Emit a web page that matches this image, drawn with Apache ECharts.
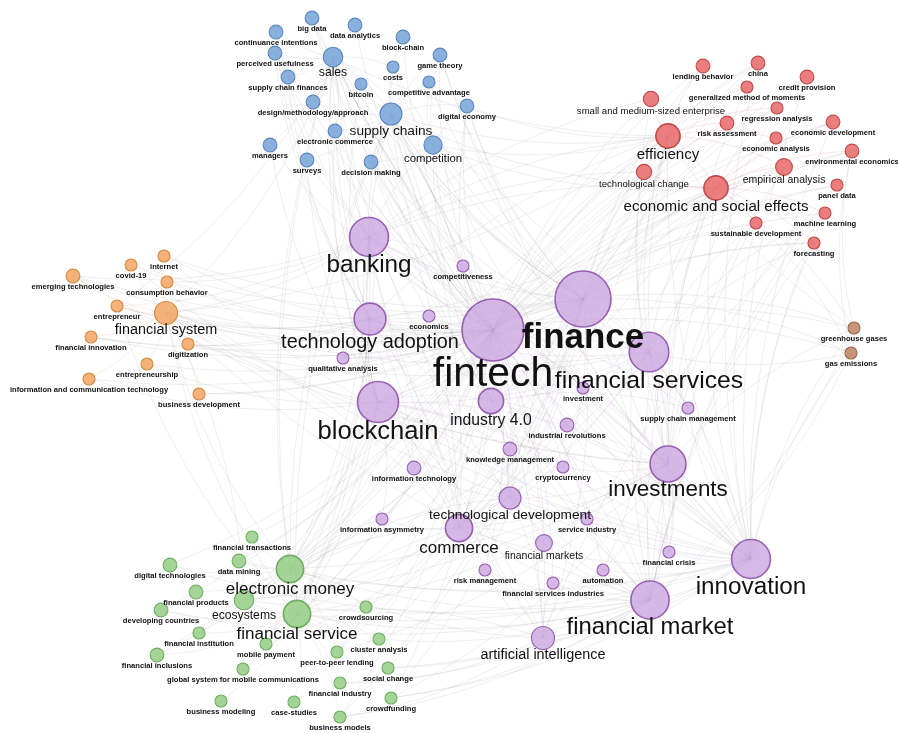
<!DOCTYPE html>
<html>
<head>
<meta charset="utf-8">
<title>Fintech keyword co-occurrence network</title>
<script src="https://cdn.jsdelivr.net/npm/echarts@6/dist/echarts.min.js"></script>
<style>
  html, body { margin: 0; padding: 0; background: #ffffff; }
  #chart { width: 898px; height: 733px; }
</style>
</head>
<body>
<div id="chart"></div>
<script>
// Cluster names (index used in the term table below)
const clusters = ['supply chain', 'economics', 'financial system', 'emissions', 'fintech core', 'digital payments'];

// Keyword terms: [term, map x, map y, occurrences, cluster]
const terms = [
  ['big data', 312, 18, 6, 0],
  ['data analytics', 355, 25, 6, 0],
  ['continuance intentions', 276, 32, 6, 0],
  ['block-chain', 403, 37, 6, 0],
  ['perceived usefulness', 275, 53, 6, 0],
  ['sales', 333, 57, 10, 0],
  ['game theory', 440, 55, 6, 0],
  ['costs', 393, 67, 5, 0],
  ['supply chain finances', 288, 77, 6, 0],
  ['bitcoin', 361, 84, 5, 0],
  ['competitive advantage', 429, 82, 5, 0],
  ['design/methodology/approach', 313, 102, 6, 0],
  ['digital economy', 467, 106, 6, 0],
  ['supply chains', 391, 114, 12, 0],
  ['electronic commerce', 335, 131, 6, 0],
  ['managers', 270, 145, 6, 0],
  ['competition', 433, 145, 9, 0],
  ['surveys', 307, 160, 6, 0],
  ['decision making', 371, 162, 6, 0],

  ['lending behavior', 703, 66, 6, 1],
  ['china', 758, 63, 6, 1],
  ['credit provision', 807, 77, 6, 1],
  ['generalized method of moments', 747, 87, 5, 1],
  ['small and medium-sized enterprise', 651, 99, 7, 1],
  ['regression analysis', 777, 108, 5, 1],
  ['risk assessment', 727, 123, 6, 1],
  ['economic development', 833, 122, 6, 1],
  ['efficiency', 668, 136, 14, 1],
  ['economic analysis', 776, 138, 5, 1],
  ['environmental economics', 852, 151, 6, 1],
  ['empirical analysis', 784, 167, 8, 1],
  ['technological change', 644, 172, 7, 1],
  ['economic and social effects', 716, 188, 14, 1],
  ['panel data', 837, 185, 5, 1],
  ['machine learning', 825, 213, 5, 1],
  ['sustainable development', 756, 223, 5, 1],
  ['forecasting', 814, 243, 5, 1],

  ['internet', 164, 256, 5, 2],
  ['covid-19', 131, 265, 5, 2],
  ['emerging technologies', 73, 276, 6, 2],
  ['consumption behavior', 167, 282, 5, 2],
  ['entrepreneur', 117, 306, 5, 2],
  ['financial system', 166, 313, 13, 2],
  ['financial innovation', 91, 337, 5, 2],
  ['digitization', 188, 344, 5, 2],
  ['entrepreneurship', 147, 364, 5, 2],
  ['information and communication technology', 89, 379, 5, 2],
  ['business development', 199, 394, 5, 2],

  ['greenhouse gases', 854, 328, 5, 3],
  ['gas emissions', 851, 353, 5, 3],

  ['banking', 369, 237, 31, 4],
  ['competitiveness', 463, 266, 5, 4],
  ['finance', 583, 299, 59, 4],
  ['fintech', 493, 330, 71, 4],
  ['technology adoption', 370, 319, 22, 4],
  ['economics', 429, 316, 5, 4],
  ['financial services', 649, 352, 32, 4],
  ['qualitative analysis', 343, 358, 5, 4],
  ['blockchain', 378, 402, 34, 4],
  ['industry 4.0', 491, 401, 15, 4],
  ['investment', 583, 388, 5, 4],
  ['supply chain management', 688, 408, 5, 4],
  ['industrial revolutions', 567, 425, 6, 4],
  ['knowledge management', 510, 449, 6, 4],
  ['cryptocurrency', 563, 467, 5, 4],
  ['information technology', 414, 468, 6, 4],
  ['investments', 668, 464, 27, 4],
  ['technological development', 510, 498, 12, 4],
  ['information asymmetry', 382, 519, 5, 4],
  ['commerce', 459, 528, 17, 4],
  ['service industry', 587, 519, 5, 4],
  ['financial markets', 544, 543, 8, 4],
  ['risk management', 485, 570, 5, 4],
  ['financial services industries', 553, 583, 5, 4],
  ['automation', 603, 570, 5, 4],
  ['financial crisis', 669, 552, 5, 4],
  ['innovation', 751, 559, 31, 4],
  ['financial market', 650, 600, 30, 4],
  ['artificial intelligence', 543, 638, 13, 4],

  ['financial transactions', 252, 537, 5, 5],
  ['digital technologies', 170, 565, 6, 5],
  ['data mining', 239, 561, 6, 5],
  ['electronic money', 290, 569, 17, 5],
  ['financial products', 196, 592, 6, 5],
  ['ecosystems', 244, 600, 10, 5],
  ['developing countries', 161, 610, 6, 5],
  ['crowdsourcing', 366, 607, 5, 5],
  ['financial service', 297, 614, 17, 5],
  ['financial institution', 199, 633, 5, 5],
  ['mobile payment', 266, 644, 5, 5],
  ['cluster analysis', 379, 639, 5, 5],
  ['financial inclusions', 157, 655, 6, 5],
  ['peer-to-peer lending', 337, 652, 5, 5],
  ['global system for mobile communications', 243, 669, 5, 5],
  ['social change', 388, 668, 5, 5],
  ['financial industry', 340, 683, 5, 5],
  ['business modeling', 221, 701, 5, 5],
  ['case-studies', 294, 702, 5, 5],
  ['crowdfunding', 391, 698, 5, 5],
  ['business models', 340, 717, 5, 5]
];

// Co-occurrence links: [term, [linked terms]]
const cooccurrence = [
  ['fintech', ['finance', 'banking', 'technology adoption', 'blockchain', 'financial services', 'industry 4.0', 'investments',
    'innovation', 'financial market', 'commerce', 'technological development', 'artificial intelligence', 'electronic money',
    'financial service', 'ecosystems', 'financial system', 'sales', 'supply chains', 'competition', 'efficiency',
    'economic and social effects', 'empirical analysis', 'small and medium-sized enterprise', 'technological change',
    'competitiveness', 'economics', 'qualitative analysis', 'investment', 'supply chain management', 'industrial revolutions',
    'knowledge management', 'cryptocurrency', 'information technology', 'information asymmetry', 'service industry',
    'financial markets', 'risk management', 'financial services industries', 'automation', 'financial crisis',
    'greenhouse gases', 'gas emissions', 'china', 'lending behavior', 'credit provision', 'bitcoin', 'big data',
    'data analytics', 'block-chain', 'game theory', 'continuance intentions', 'perceived usefulness', 'decision making',
    'surveys', 'managers', 'electronic commerce', 'digital economy', 'covid-19', 'internet', 'emerging technologies',
    'entrepreneur', 'financial innovation', 'digitization', 'entrepreneurship', 'information and communication technology',
    'business development', 'consumption behavior', 'financial inclusions', 'developing countries', 'crowdfunding',
    'peer-to-peer lending', 'mobile payment', 'financial institution', 'business models', 'financial industry',
    'digital technologies', 'data mining', 'financial transactions', 'regression analysis', 'machine learning',
    'forecasting', 'panel data', 'economic development', 'sustainable development', 'risk assessment',
    'economic analysis', 'environmental economics']],
  ['finance', ['banking', 'technology adoption', 'blockchain', 'financial services', 'investments', 'innovation',
    'financial market', 'commerce', 'industry 4.0', 'electronic money', 'financial service', 'financial system', 'sales',
    'supply chains', 'competition', 'efficiency', 'economic and social effects', 'empirical analysis', 'china',
    'lending behavior', 'credit provision', 'generalized method of moments', 'regression analysis', 'economic development',
    'environmental economics', 'panel data', 'forecasting', 'greenhouse gases', 'gas emissions', 'technological development',
    'artificial intelligence', 'cryptocurrency', 'supply chain management', 'financial crisis', 'competitiveness',
    'qualitative analysis', 'bitcoin', 'game theory', 'digital economy', 'costs', 'competitive advantage',
    'emerging technologies', 'internet', 'covid-19', 'financial innovation', 'business development', 'crowdfunding',
    'financial inclusions', 'peer-to-peer lending', 'cluster analysis', 'social change', 'business models']],
  ['financial services', ['banking', 'blockchain', 'innovation', 'investments', 'financial market', 'technology adoption',
    'industry 4.0', 'commerce', 'efficiency', 'economic and social effects', 'technological change', 'sustainable development',
    'machine learning', 'forecasting', 'supply chain management', 'financial crisis', 'automation', 'electronic money',
    'financial service', 'crowdsourcing', 'financial system', 'digitization', 'supply chains', 'decision making']],
  ['blockchain', ['banking', 'technology adoption', 'industry 4.0', 'commerce', 'technological development',
    'information technology', 'information asymmetry', 'cryptocurrency', 'knowledge management', 'artificial intelligence',
    'financial market', 'innovation', 'investments', 'electronic money', 'ecosystems', 'financial service', 'mobile payment',
    'financial system', 'entrepreneurship', 'information and communication technology', 'supply chains', 'sales', 'surveys',
    'managers', 'electronic commerce', 'bitcoin']],
  ['banking', ['technology adoption', 'competitiveness', 'economics', 'qualitative analysis', 'efficiency',
    'small and medium-sized enterprise', 'technological change', 'sales', 'supply chains', 'competition',
    'perceived usefulness', 'continuance intentions', 'financial system', 'entrepreneur', 'emerging technologies',
    'consumption behavior', 'investments', 'innovation', 'financial market', 'commerce', 'electronic money',
    'financial service', 'economic and social effects']],
  ['innovation', ['investments', 'financial market', 'commerce', 'technological development', 'artificial intelligence',
    'financial crisis', 'automation', 'service industry', 'supply chain management', 'economic and social effects',
    'machine learning', 'forecasting', 'sustainable development', 'greenhouse gases', 'gas emissions', 'financial service',
    'crowdfunding', 'social change', 'efficiency', 'sales', 'supply chains', 'competition', 'decision making', 'game theory',
    'digital economy', 'china', 'credit provision', 'technology adoption', 'blockchain', 'financial system',
    'electronic money', 'ecosystems', 'data mining', 'internet', 'covid-19', 'economic development']],
  ['investments', ['financial market', 'commerce', 'technological development', 'cryptocurrency', 'industrial revolutions',
    'financial crisis', 'automation', 'economic and social effects', 'empirical analysis', 'greenhouse gases',
    'electronic money', 'financial service', 'sales', 'supply chains', 'big data', 'small and medium-sized enterprise',
    'efficiency', 'china', 'regression analysis', 'panel data', 'financial system', 'emerging technologies', 'crowdfunding',
    'peer-to-peer lending', 'ecosystems']],
  ['financial market', ['artificial intelligence', 'commerce', 'financial markets', 'risk management',
    'financial services industries', 'automation', 'technological development', 'financial service', 'electronic money',
    'crowdfunding', 'cluster analysis', 'social change', 'business models', 'financial industry', 'efficiency',
    'empirical analysis', 'economic and social effects', 'forecasting', 'machine learning', 'panel data', 'blockchain',
    'technology adoption', 'sales', 'supply chains', 'financial system', 'digital technologies', 'developing countries']],
  ['technology adoption', ['qualitative analysis', 'economics', 'industry 4.0', 'sales', 'perceived usefulness',
    'continuance intentions', 'supply chain finances', 'financial system', 'entrepreneur', 'financial innovation',
    'digitization', 'information technology', 'efficiency', 'commerce', 'electronic money', 'financial service',
    'mobile payment']],
  ['industry 4.0', ['industrial revolutions', 'knowledge management', 'technological development', 'supply chains',
    'competition', 'digital economy', 'supply chain management', 'innovation']],
  ['electronic money', ['financial service', 'ecosystems', 'data mining', 'financial transactions', 'digital technologies',
    'financial products', 'crowdsourcing', 'mobile payment', 'peer-to-peer lending', 'commerce', 'information asymmetry',
    'technological development', 'efficiency', 'economic and social effects', 'sales', 'supply chains', 'financial system']],
  ['financial service', ['ecosystems', 'financial institution', 'developing countries', 'financial inclusions',
    'mobile payment', 'cluster analysis', 'peer-to-peer lending', 'global system for mobile communications', 'social change',
    'financial industry', 'business modeling', 'case-studies', 'crowdfunding', 'business models', 'artificial intelligence',
    'commerce', 'financial system', 'entrepreneur', 'efficiency', 'sales', 'supply chains']],
  ['efficiency', ['small and medium-sized enterprise', 'technological change', 'economic and social effects',
    'risk assessment', 'lending behavior', 'generalized method of moments', 'regression analysis', 'economic analysis',
    'empirical analysis', 'china', 'supply chains', 'sales', 'competition', 'digital economy', 'financial system',
    'blockchain', 'commerce']],
  ['economic and social effects', ['empirical analysis', 'sustainable development', 'machine learning', 'panel data',
    'economic analysis', 'environmental economics', 'economic development', 'forecasting', 'technological change',
    'credit provision', 'supply chains', 'competition', 'blockchain', 'technology adoption', 'commerce', 'ecosystems',
    'greenhouse gases', 'gas emissions']],
  ['sales', ['supply chains', 'competition', 'big data', 'data analytics', 'continuance intentions', 'perceived usefulness',
    'supply chain finances', 'bitcoin', 'costs', 'design/methodology/approach', 'electronic commerce', 'managers',
    'financial system', 'entrepreneur', 'commerce']],
  ['supply chains', ['competition', 'decision making', 'surveys', 'electronic commerce', 'game theory', 'costs',
    'competitive advantage', 'digital economy', 'block-chain', 'bitcoin', 'design/methodology/approach',
    'supply chain management', 'commerce', 'technological development', 'artificial intelligence']],
  ['competition', ['decision making', 'game theory', 'competitive advantage', 'digital economy', 'costs']],
  ['financial system', ['emerging technologies', 'covid-19', 'internet', 'consumption behavior', 'entrepreneur',
    'financial innovation', 'digitization', 'entrepreneurship', 'information and communication technology',
    'business development', 'ecosystems', 'commerce']],
  ['commerce', ['technological development', 'information asymmetry', 'financial markets', 'risk management',
    'knowledge management', 'service industry', 'ecosystems', 'mobile payment', 'electronic commerce']],
  ['technological development', ['knowledge management', 'cryptocurrency', 'information technology', 'service industry',
    'financial markets', 'artificial intelligence', 'sales', 'efficiency']],
  ['artificial intelligence', ['financial services industries', 'risk management', 'automation', 'machine learning',
    'business models', 'financial industry', 'electronic money', 'financial service', 'blockchain', 'banking', 'sales']],
  ['greenhouse gases', ['gas emissions', 'environmental economics', 'financial market', 'efficiency']],
  ['gas emissions', ['innovation', 'financial market', 'financial services', 'environmental economics']]
];

// Cluster palette: node fill, node outline, intra-cluster link tint
const palette = [
  { fill: 'rgba(122,166,216,0.88)', line: '#5a86bf', link: 'rgba(120,150,190,0.22)' },
  { fill: 'rgba(232,108,108,0.88)', line: '#c04a4a', link: 'rgba(220,120,120,0.30)' },
  { fill: 'rgba(243,168,104,0.88)', line: '#d5893f', link: 'rgba(235,165,110,0.32)' },
  { fill: 'rgba(196,140,110,0.92)', line: '#98684e', link: 'rgba(190,140,110,0.30)' },
  { fill: 'rgba(202,164,224,0.78)', line: '#9860b2', link: 'rgba(160,125,180,0.22)' },
  { fill: 'rgba(152,206,138,0.88)', line: '#6fae62', link: 'rgba(140,175,130,0.24)' }
];

const radiusOf = w => 4.03 * Math.sqrt(w) - 3;
const fontOf = r => (r < 7.5 ? 7.6 : r > 30 ? 1.32 * r : 1.25 * r);

const clusterOf = {};
terms.forEach(t => { clusterOf[t[0]] = t[4]; });

const nodes = terms.map(([name, x, y, w, c]) => {
  const r = radiusOf(w);
  const small = r < 7.5;
  return {
    name, x, y, value: w,
    symbolSize: 2 * r,
    itemStyle: { color: palette[c].fill, borderColor: palette[c].line, borderWidth: r > 12 ? 1.6 : 1.1 },
    label: {
      fontSize: fontOf(r),
      fontWeight: (small || name === 'finance') ? 'bold' : 'normal',
      distance: 2 - 0.32 * r
    }
  };
});

const seen = new Set();
const links = [];
cooccurrence.forEach(([src, targets]) => {
  targets.forEach(tgt => {
    const key = [src, tgt].sort().join('\u0000');
    if (seen.has(key) || !(tgt in clusterOf) || src === tgt) return;
    seen.add(key);
    const same = clusterOf[src] === clusterOf[tgt];
    links.push({
      source: src, target: tgt,
      lineStyle: { color: same ? palette[clusterOf[src]].link : 'rgba(130,130,130,0.22)', width: 0.6 }
    });
  });
});

const xs = terms.map(t => t[1]);
const ys = terms.map(t => t[2]);
const minX = Math.min(...xs), maxX = Math.max(...xs);
const minY = Math.min(...ys), maxY = Math.max(...ys);

const chart = echarts.init(document.getElementById('chart'), null, { renderer: 'canvas' });
chart.setOption({
  backgroundColor: '#ffffff',
  animation: false,
  series: [{
    type: 'graph',
    layout: 'none',
    roam: false,
    left: minX, top: minY,
    width: maxX - minX, height: maxY - minY,
    data: nodes,
    links: links,
    emphasis: { disabled: true },
    lineStyle: { curveness: 0.12, opacity: 1 },
    label: {
      show: true,
      position: 'bottom',
      color: '#111111',
      fontFamily: 'Liberation Sans, Arial, Helvetica, sans-serif'
    },
    labelLayout: { hideOverlap: false }
  }]
});
</script>
</body>
</html>
